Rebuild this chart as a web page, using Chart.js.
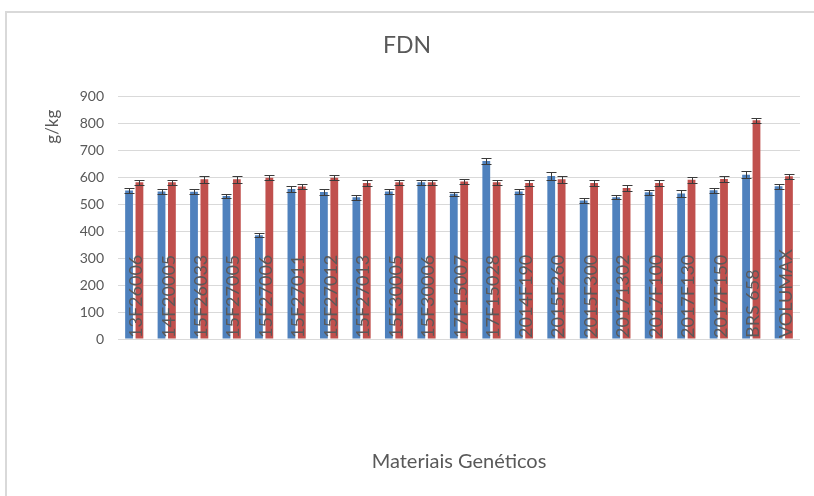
<!DOCTYPE html>
<html>
<head>
<meta charset="utf-8">
<script src="https://cdn.jsdelivr.net/npm/chart.js@4"></script>
<style>
    body { margin: 0; background: #fff; }
    #moldura { position: absolute; left: 5px; top: 11px; width: 830px; height: 520px; border-top: 2px solid #d9d9d9; border-left: 2px solid #d9d9d9; }
    #grafico { position: absolute; left: 0; top: 0; }
</style>
</head>
<body>
<div id="moldura"></div>
<canvas id="grafico" width="814" height="496"></canvas>
<script>
const materiais = ['13F26006', '14F20005', '15F26033', '15F27005', '15F27006', '15F27011', '15F27012',
    '15F27013', '15F30005', '15F30006', '17F15007', '17F15028', '2014F190', '2015F260', '2015F300',
    '20171302', '2017F100', '2017F130', '2017F150', 'BRS 658', 'VOLUMAX'];

const fdnAzul = [551, 548, 547, 531, 385, 557, 546, 526, 548, 582, 539, 661, 548, 605, 514, 526, 545, 540, 552, 610, 567];
const erroAzul = [8, 8, 10, 8, 8, 12, 10, 10, 10, 10, 8, 10, 10, 14, 10, 8, 10, 12, 10, 12, 10];

const fdnVermelho = [582, 582, 593, 593, 599, 566, 599, 579, 582, 582, 585, 582, 579, 593, 579, 561, 579, 591, 594, 812, 604];
const erroVermelho = [10, 10, 12, 12, 10, 10, 10, 10, 10, 10, 8, 10, 10, 12, 10, 10, 10, 10, 12, 10, 10];

const ticksY = [0, 100, 200, 300, 400, 500, 600, 700, 800, 900];

const fonte = 'Lato, "Open Sans", sans-serif';
const cinza = '#595959';

// barras de erro desenhadas sobre as barras
const pluginErros = {
    id: 'erros',
    afterDatasetsDraw(chart) {
        const ctx = chart.ctx;
        const y = chart.scales.y;
        const erros = [erroAzul, erroVermelho];
        ctx.save();
        ctx.strokeStyle = '#3a3a3a';
        ctx.lineWidth = 1;
        chart.data.datasets.forEach((ds, d) => {
            const meta = chart.getDatasetMeta(d);
            meta.data.forEach((barra, i) => {
                const x = Math.round(barra.x) + 0.5;
                const topo = Math.round(y.getPixelForValue(ds.data[i] + erros[d][i])) + 0.5;
                const base = Math.round(y.getPixelForValue(ds.data[i] - erros[d][i])) + 0.5;
                ctx.beginPath();
                ctx.moveTo(x, topo);
                ctx.lineTo(x, base);
                ctx.moveTo(x - 5, topo);
                ctx.lineTo(x + 5, topo);
                ctx.moveTo(x - 5, base);
                ctx.lineTo(x + 5, base);
                ctx.stroke();
            });
        });
        ctx.restore();
    }
};

// rótulos das categorias dentro da área do gráfico, verticais
const pluginRotulos = {
    id: 'rotulos',
    afterDraw(chart) {
        const ctx = chart.ctx;
        const x = chart.scales.x;
        const area = chart.chartArea;
        ctx.save();
        ctx.beginPath();
        ctx.rect(area.left, 0, area.right - area.left, chart.height);
        ctx.clip();
        ctx.fillStyle = cinza;
        ctx.font = '18px ' + fonte;
        ctx.textAlign = 'left';
        ctx.textBaseline = 'middle';
        materiais.forEach((nome, i) => {
            ctx.save();
            ctx.translate(x.getPixelForValue(i) + 2, area.bottom - 1);
            ctx.rotate(-Math.PI / 2);
            ctx.fillText(nome, 0, 0);
            ctx.restore();
        });
        ctx.restore();
    }
};

new Chart(document.getElementById('grafico'), {
    type: 'bar',
    data: {
        labels: materiais,
        datasets: [
            {
                label: 'FDN 1',
                data: fdnAzul,
                backgroundColor: '#4f81bd',
                categoryPercentage: 0.64,
                barPercentage: 0.75
            },
            {
                label: 'FDN 2',
                data: fdnVermelho,
                backgroundColor: '#c0504d',
                categoryPercentage: 0.64,
                barPercentage: 0.75
            }
        ]
    },
    options: {
        responsive: false,
        animation: false,
        layout: { padding: { left: 14, right: 14, top: 0, bottom: 0 } },
        plugins: {
            legend: { display: false },
            tooltip: { enabled: false },
            title: {
                display: true,
                text: 'FDN',
                color: cinza,
                font: { family: fonte, size: 23, weight: 'normal' },
                padding: { top: 32, bottom: 37 }
            }
        },
        scales: {
            x: {
                grid: { display: false },
                border: { display: false },
                ticks: { display: false },
                title: {
                    display: true,
                    text: 'Materiais Genéticos',
                    color: cinza,
                    font: { family: fonte, size: 20 },
                    padding: { top: 0, bottom: 22 }
                },
                afterFit(scale) { scale.height = 157; }
            },
            y: {
                min: 0,
                max: 900,
                afterBuildTicks(scale) { scale.ticks = ticksY.map(v => ({ value: v })); },
                grid: { color: '#d9d9d9', lineWidth: 1, drawTicks: false },
                border: { display: false },
                ticks: {
                    color: cinza,
                    font: { family: fonte, size: 14 },
                    padding: 14
                },
                title: {
                    display: true,
                    text: 'g/kg   ',
                    align: 'end',
                    color: cinza,
                    font: { family: fonte, size: 17 },
                    padding: { top: 28, bottom: 0 }
                },
                afterFit(scale) { scale.width = 104; }
            }
        }
    },
    plugins: [pluginErros, pluginRotulos]
});
</script>
</body>
</html>
